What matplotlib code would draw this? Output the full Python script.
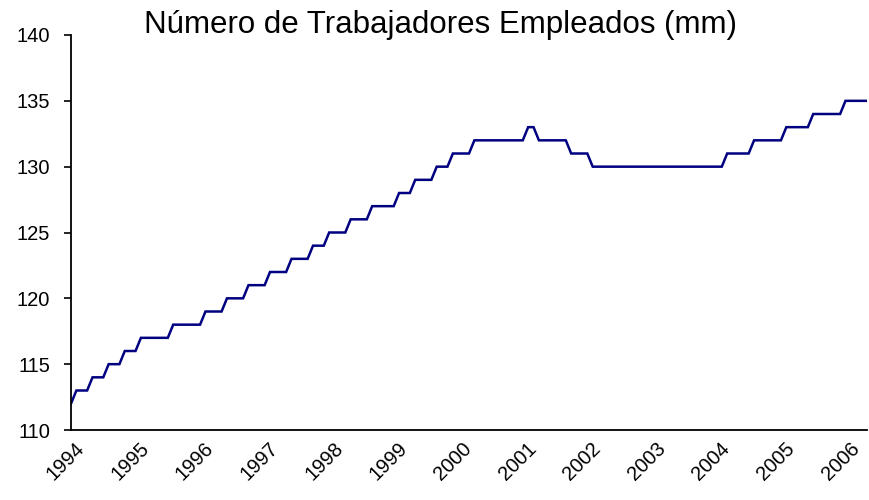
import matplotlib
matplotlib.use("Agg")
import matplotlib.pyplot as plt
from matplotlib.transforms import ScaledTranslation

plt.rcParams['font.family'] = ['Liberation Sans', 'DejaVu Sans']

title = "Número de Trabajadores Empleados (mm)"
years = ["1994", "1995", "1996", "1997", "1998", "1999", "2000",
         "2001", "2002", "2003", "2004", "2005", "2006"]
# monthly employment (millions, rounded), Jan 1994 - May 2006
employed = [
    112, 113, 113, 113, 114, 114, 114, 115, 115, 115, 116, 116,   # 1994
    116, 117, 117, 117, 117, 117, 117, 118, 118, 118, 118, 118,   # 1995
    118, 119, 119, 119, 119, 120, 120, 120, 120, 121, 121, 121,   # 1996
    121, 122, 122, 122, 122, 123, 123, 123, 123, 124, 124, 124,   # 1997
    125, 125, 125, 125, 126, 126, 126, 126, 127, 127, 127, 127,   # 1998
    127, 128, 128, 128, 129, 129, 129, 129, 130, 130, 130, 131,   # 1999
    131, 131, 131, 132, 132, 132, 132, 132, 132, 132, 132, 132,   # 2000
    132, 133, 133, 132, 132, 132, 132, 132, 132, 131, 131, 131,   # 2001
    131, 130, 130, 130, 130, 130, 130, 130, 130, 130, 130, 130,   # 2002
    130, 130, 130, 130, 130, 130, 130, 130, 130, 130, 130, 130,   # 2003
    130, 130, 131, 131, 131, 131, 131, 132, 132, 132, 132, 132,   # 2004
    132, 133, 133, 133, 133, 133, 134, 134, 134, 134, 134, 134,   # 2005
    135, 135, 135, 135, 135,                                      # 2006
]
y_ticks = [110, 115, 120, 125, 130, 135, 140]

fig = plt.figure(figsize=(8.7, 5.0), dpi=100)
ax = fig.add_axes([71 / 870, 1 - 430 / 500, (867 - 71) / 870, (430 - 35) / 500])

x = list(range(len(employed)))
ax.plot(x, employed, color='#000080', linewidth=1.8, solid_joinstyle='miter')

ax.set_xlim(0, len(employed) - 1)
ax.set_ylim(110, 140)
ax.set_yticks(y_ticks)
ax.set_yticklabels([str(v) for v in y_ticks], fontsize=14.5)
ax.set_xticks([12 * i for i in range(len(years))])
ax.set_xticklabels([])

offset = ScaledTranslation(4 / 100, -9 / 100, fig.dpi_scale_trans)
for i, yr in enumerate(years):
    ax.text(12 * i, 0, yr, transform=ax.get_xaxis_transform() + offset,
            fontsize=14.5, rotation=45, ha='right', va='top',
            rotation_mode='anchor', clip_on=False)

ax.tick_params(axis='x', length=0, pad=0)
ax.tick_params(axis='y', length=5, width=1.2, pad=10, direction='out')
for s in ['top', 'right']:
    ax.spines[s].set_visible(False)
for s in ['left', 'bottom']:
    ax.spines[s].set_linewidth(1.3)
    ax.spines[s].set_color('black')

fig.text(440 / 870, 1 - 25 / 500, title, fontsize=22.5, ha='center', va='center')

fig.savefig("out.png", dpi=100)
